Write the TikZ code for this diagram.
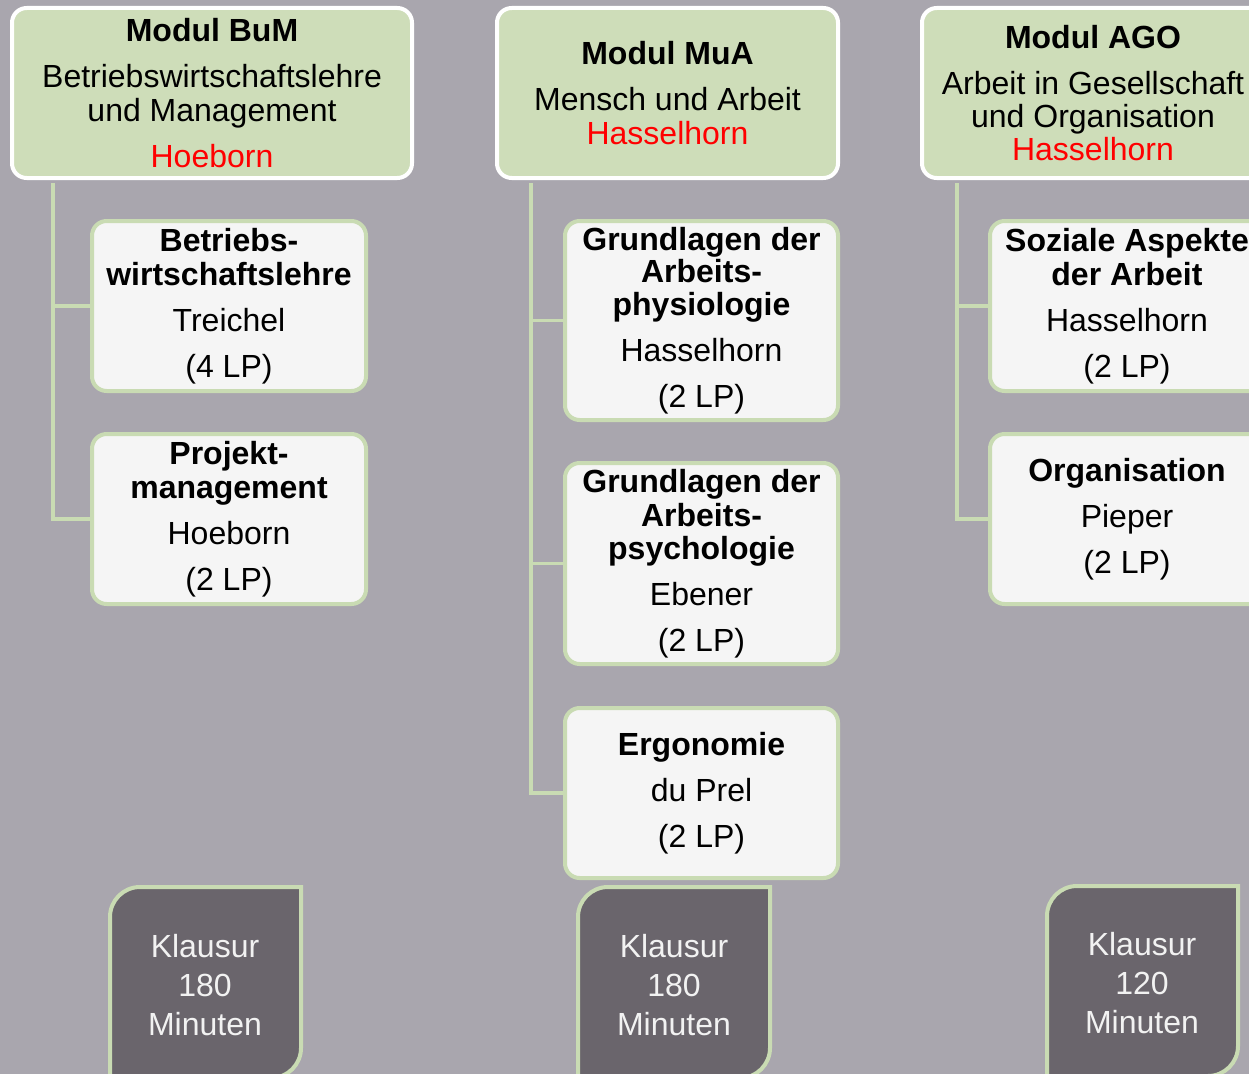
\documentclass[tikz,border=0pt]{standalone}
\usepackage{fontspec}
\setmainfont{Liberation Sans}
\definecolor{bg}{HTML}{A9A6AE}
\definecolor{hdrgreen}{HTML}{CEDDB9}
\definecolor{lgreen}{HTML}{C9DBB3}
\definecolor{subfill}{HTML}{F5F5F5}
\definecolor{kfill}{HTML}{6A656C}
\definecolor{kwhite}{HTML}{F2F2F2}
\def\PX{0.75pt}
\begin{document}
\begin{tikzpicture}[x=0.75pt,y=-0.75pt,
  hdr/.style={draw=white, line width=3pt, fill=hdrgreen, rounded corners=11pt,
    align=center, inner sep=0pt, font=\fontsize{24}{25.5}\selectfont},
  sub/.style={draw=lgreen, line width=3pt, fill=subfill, rounded corners=11pt,
    align=center, inner sep=0pt, font=\fontsize{24}{25.5}\selectfont},
  conn/.style={draw=lgreen, line width=2.6pt},
  kl/.style={draw=lgreen, line width=3pt, fill=kfill},
  ktext/.style={text=kwhite, align=center, inner sep=0pt, font=\fontsize{24}{29.25}\selectfont}
]
\useasboundingbox (0,0) rectangle (1249,1074);
\fill[bg] (0,0) rectangle (1249,1074);
\clip (0,0) rectangle (1249,1074);

% headers
\node[hdr, minimum width=400*\PX, minimum height=170*\PX] (hBuM) at (212,93)
  {\textbf{Modul BuM}\\[9pt]Betriebswirtschaftslehre\\und Management\\[8.5pt]\textcolor{red}{Hoeborn}};
\node[hdr, minimum width=341*\PX, minimum height=170*\PX] (hMuA) at (667.5,93)
  {\textbf{Modul MuA}\\[9pt]Mensch und Arbeit\\\textcolor{red}{Hasselhorn}};
\node[hdr, minimum width=342*\PX, minimum height=170*\PX] (hAGO) at (1093,93)
  {\textbf{Modul AGO}\\[9pt]Arbeit in Gesellschaft\\[-0.5pt]und Organisation\\[-0.5pt]\textcolor{red}{Hasselhorn}};

% sub boxes
\node[sub, minimum width=274*\PX, minimum height=170*\PX] (c11) at (229,306)
  {\textbf{Betriebs-}\\\textbf{wirtschaftslehre}\\[9pt]Treichel\\[9pt](4 LP)};
\node[sub, minimum width=274*\PX, minimum height=170*\PX] (c12) at (229,519)
  {\textbf{Projekt-}\\\textbf{management}\\[9pt]Hoeborn\\[9pt](2 LP)};

\node[sub, minimum width=273*\PX, minimum height=199*\PX] (c21) at (701.5,320.5)
  {\textbf{Grundlagen der}\\[-1pt]\textbf{Arbeits-}\\[-1pt]\textbf{physiologie}\\[9pt]Hasselhorn\\[9pt](2 LP)};
\node[sub, minimum width=273*\PX, minimum height=201*\PX] (c22) at (701.5,563.5)
  {\textbf{Grundlagen der}\\\textbf{Arbeits-}\\[-1pt]\textbf{psychologie}\\[9pt]Ebener\\[9pt](2 LP)};
\node[sub, minimum width=273*\PX, minimum height=170*\PX] (c23) at (701.5,793)
  {\textbf{Ergonomie}\\[9pt]du Prel\\[9pt](2 LP)};

\node[sub, minimum width=274*\PX, minimum height=170*\PX] (c31) at (1127,306)
  {\textbf{Soziale Aspekte}\\\textbf{der Arbeit}\\[9pt]Hasselhorn\\[9pt](2 LP)};
\node[sub, minimum width=274*\PX, minimum height=170*\PX] (c32) at (1127,519)
  {\textbf{Organisation}\\[9pt]Pieper\\[9pt](2 LP)};

% connectors
\coordinate (t1) at ([xshift=43*\PX, yshift=-2.5pt]hBuM.south west);
\coordinate (t2) at ([xshift=36*\PX, yshift=-2.5pt]hMuA.south west);
\coordinate (t3) at ([xshift=37*\PX, yshift=-2.5pt]hAGO.south west);
\draw[conn] (t1) |- (c12.west);
\draw[conn] (t1 |- c11.west) -- (c11.west);
\draw[conn] (t2) |- (c23.west);
\draw[conn] (t2 |- c21.west) -- (c21.west);
\draw[conn] (t2 |- c22.west) -- (c22.west);
\draw[conn] (t3) |- (c32.west);
\draw[conn] (t3 |- c31.west) -- (c31.west);

% Klausur boxes
\draw[kl] (110,1078) -- (110,917) arc[start angle=180,end angle=90,radius=22.5pt]
  -- (301,887) -- (301,1048) arc[start angle=0,end angle=-90,radius=22.5pt] -- cycle;
\draw[kl] (578,1078) -- (578,917) arc[start angle=180,end angle=90,radius=22.5pt]
  -- (770,887) -- (770,1048) arc[start angle=0,end angle=-90,radius=22.5pt] -- cycle;
\draw[kl] (1047,1076) -- (1047,916) arc[start angle=180,end angle=90,radius=22.5pt]
  -- (1238,886) -- (1238,1046) arc[start angle=0,end angle=-90,radius=22.5pt] -- cycle;

\node[ktext] (k1) at (205,985) {Klausur\\180\\Minuten};
\node[ktext] (k2) at (674,985) {Klausur\\180\\Minuten};
\node[ktext] (k3) at (1142,983) {Klausur\\120\\Minuten};
\end{tikzpicture}
\end{document}
